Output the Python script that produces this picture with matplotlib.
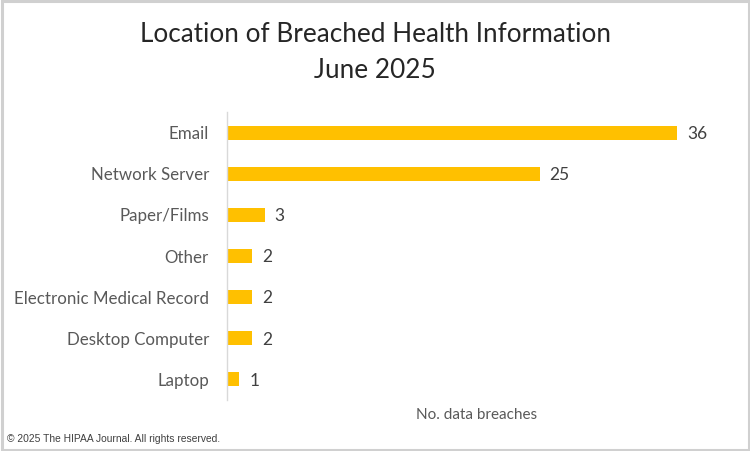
import matplotlib.pyplot as plt
from matplotlib.patches import FancyBboxPatch

# Data
locations = ['Email', 'Network Server', 'Paper/Films', 'Other',
             'Electronic Medical Record', 'Desktop Computer', 'Laptop']
breaches = [36, 25, 3, 2, 2, 2, 1]

plt.rcParams['font.family'] = ['Lato', 'DejaVu Sans']

fig = plt.figure(figsize=(7.5, 4.51), dpi=100)
ax = fig.add_axes([227 / 750, 51 / 451, 500 / 750, 288 / 451])

ypos = list(range(len(locations)))
ax.barh(ypos, breaches, height=0.34, color='#FFC000')
ax.set_yticks(ypos)
ax.set_yticklabels(locations, fontsize=12.2, color='#595959')
ax.set_ylim(len(locations) - 0.5, -0.5)
ax.set_xlim(0, 40)
ax.set_xticks([])
ax.tick_params(axis='y', length=0, pad=13)

for s in ['top', 'right', 'bottom']:
    ax.spines[s].set_visible(False)
ax.spines['left'].set_color('#d9d9d9')
ax.spines['left'].set_linewidth(1.0)

# value labels
for y, v in zip(ypos, breaches):
    ax.text(v + 0.8, y + 0.03, str(v), va='center', ha='left', fontsize=12.5, color='#404040')

ax.set_xlabel('No. data breaches', fontsize=11, color='#595959', labelpad=6)

fig.text(0.5, 1 - 35 / 451, 'Location of Breached Health Information', ha='center', va='center',
         fontsize=18.8, color='#262626')
fig.text(0.5, 1 - 70 / 451, 'June 2025', ha='center', va='center',
         fontsize=18.8, color='#262626')

fig.text(7 / 750, 1 - 439 / 451, '\u00a9 2025 The HIPAA Journal. All rights reserved.',
         ha='left', va='center', fontsize=7.4, color='#404040', family=['Liberation Sans', 'DejaVu Sans'])

# border around the figure
border = FancyBboxPatch((0.002, 0.003), 0.996, 0.994, boxstyle='square,pad=0',
                        transform=fig.transFigure, fill=False, edgecolor='#d0d0d0', linewidth=2.2)
fig.patches.append(border)

fig.savefig('out.png', dpi=100)
